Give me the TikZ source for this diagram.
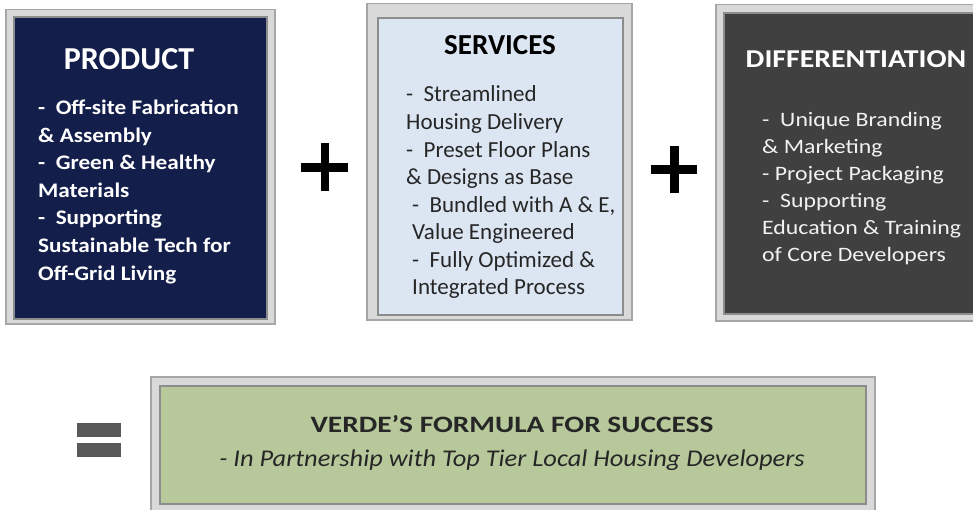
\documentclass[tikz,border=0pt]{standalone}
\usepackage{fontspec}
\setmainfont{Carlito}
\newfontfamily\prodfont[FakeStretch=1.12]{Carlito}
\newfontfamily\difffont[FakeStretch=1.16]{Carlito}
\newfontfamily\verdefont[FakeStretch=1.25]{Carlito}
\newfontfamily\taglinefont[FakeStretch=1.10]{Carlito}
\usepackage{xcolor}
\usepackage{tikz}
\usetikzlibrary{positioning}
\definecolor{navy}{HTML}{141E4B}
\definecolor{paleblue}{HTML}{DCE6F2}
\definecolor{charcoal}{HTML}{404040}
\definecolor{sage}{HTML}{B7C89B}
\definecolor{framegray}{HTML}{D9D9D9}
\definecolor{edgegray}{HTML}{A6A6A6}
\definecolor{rimgray}{HTML}{8C8C8C}
\definecolor{inkgray}{HTML}{262626}
\definecolor{eqgray}{HTML}{595959}

\begin{document}
\begin{tikzpicture}[x=1pt, y=-1pt,
    frame/.style={draw=edgegray, line width=1.5pt, fill=framegray, anchor=north west, inner sep=0pt},
    panel/.style={draw=rimgray, line width=2pt, anchor=north west, inner sep=0pt},
    line/.style={anchor=base west, inner sep=0pt},
    title/.style={anchor=base, inner sep=0pt, font=\bfseries}]
    \useasboundingbox (0,0) rectangle (973,510);
    \clip (0,0) rectangle (973,510);

    % Grey frames with coloured panels inside
    \node[frame, minimum width=269, minimum height=314] (prodframe) at (5,9) {};
    \node[panel, fill=navy, minimum width=253, minimum height=302] (prod) at (13,16) {};
    \node[frame, minimum width=265, minimum height=316] (servframe) at (366,3) {};
    \node[panel, fill=paleblue, minimum width=245, minimum height=297] (serv) at (377,17) {};
    \node[frame, minimum width=280, minimum height=316] (diffframe) at (715,4) {};
    \node[panel, fill=charcoal, minimum width=270, minimum height=301] (diff) at (723,12) {};
    \node[frame, minimum width=724, minimum height=150] (verdeframe) at (150,376) {};
    \node[panel, fill=sage, minimum width=706, minimum height=118] (verde) at (159,385) {};

    % Titles
    \node[title, text=white, font=\fontsize{32}{36}\selectfont\bfseries] (prodtitle) at (129,70) {PRODUCT};
    \node[title, text=black, font=\fontsize{29}{33}\selectfont\bfseries] (servtitle) at (500,55) {SERVICES};
    \node[title, text=white, font=\difffont\fontsize{25.7}{30}\selectfont\bfseries] (difftitle) at (856,68) {DIFFERENTIATION};

    % Product items
    \foreach \txt [count=\i] in {{-\ \ Off-site Fabrication},{\& Assembly},{-\ \ Green \& Healthy},{Materials},{-\ \ Supporting},{Sustainable Tech for},{Off-Grid Living}}
        \node[line, text=white, font=\prodfont\fontsize{20.7}{24}\selectfont\bfseries] (prod\i) at (38,{115+27.5*(\i-1)}) {\txt};

    % Services items
    \foreach \txt/\dx [count=\i] in {{-\ \ Streamlined}/406,{Housing Delivery}/406,{-\ \ Preset Floor Plans}/406,{\& Designs as Base}/406,{-\ \ Bundled with A \& E,}/412,{Value Engineered}/412,{-\ \ Fully Optimized \&}/412,{Integrated Process}/412}
        \node[line, text=inkgray, font=\fontsize{23}{27}\selectfont] (serv\i) at (\dx,{102+27.57*(\i-1)}) {\txt};

    % Differentiation items
    \foreach \txt [count=\i] in {{-\ \ Unique Branding},{\& Marketing},{- Project Packaging},{-\ \ Supporting},{Education \& Training},{of Core Developers}}
        \node[line, text=white!95!black, font=\difffont\fontsize{20.5}{24}\selectfont] (diff\i) at (762,{127+26.9*(\i-1)}) {\txt};

    % Result
    \node[title, text=inkgray, font=\verdefont\fontsize{23.5}{27}\selectfont\bfseries] (verdetitle) at (512,432) {VERDE’S FORMULA FOR SUCCESS};
    \node[title, text=inkgray, font=\taglinefont\fontsize{24}{28}\selectfont\itshape] (verdesub) at (512,466) {- In Partnership with Top Tier Local Housing Developers};

    % Plus and equals signs
    \fill (301,162.7) rectangle (348.3,171.7);
    \fill (320.7,143) rectangle (329.3,190.7);
    \fill (650.7,165) rectangle (697.3,174);
    \fill (670,146) rectangle (679,193);
    \fill[eqgray] (76.7,423) rectangle (120.7,436.7);
    \fill[eqgray] (76.7,443) rectangle (120.7,456.7);
\end{tikzpicture}
\end{document}
